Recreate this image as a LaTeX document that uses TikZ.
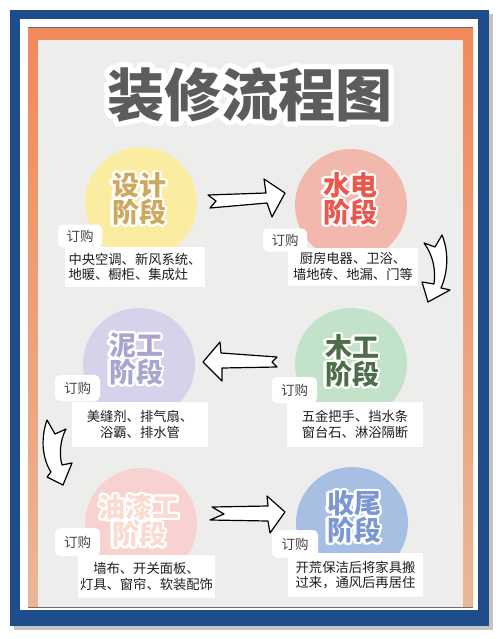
\documentclass[tikz,border=0pt]{standalone}
\usepackage{fontspec}
\newfontfamily\cjk{Noto Sans CJK SC}
\usetikzlibrary{calc}
\definecolor{bgpage}{HTML}{EDEEEC}
\definecolor{frameblue}{HTML}{1F4C8A}
\definecolor{shadowgray}{HTML}{C4C4C4}
\definecolor{orangetop}{HTML}{F2895A}
\definecolor{orangebot}{HTML}{E9B796}
\definecolor{scrollline}{HTML}{6E6E6E}
\definecolor{titlegray}{HTML}{5C5C5C}
\definecolor{taggray}{HTML}{444444}
\definecolor{bodyblack}{HTML}{1E1E1E}
\definecolor{yellowc}{HTML}{FAEDA2}
\definecolor{yellowt}{HTML}{CEA85E}
\definecolor{salmonc}{HTML}{F3B8AD}
\definecolor{salmont}{HTML}{E9574D}
\definecolor{lavc}{HTML}{D4D3E9}
\definecolor{lavt}{HTML}{A8A6CE}
\definecolor{greenc}{HTML}{C2E3C9}
\definecolor{greent}{HTML}{4D6D4B}
\definecolor{pinkc}{HTML}{F7D2D0}
\definecolor{pinkt}{HTML}{FADBD0}
\definecolor{bluec}{HTML}{A8BFE4}
\definecolor{bluet}{HTML}{7B98D2}
\tikzset{
 stagelabel/.style={font=\cjk\bfseries\fontsize{27}{27}\selectfont, align=center, inner sep=0pt},
 titlelabel/.style={font=\cjk\bfseries\fontsize{57}{57}\selectfont, inner sep=0pt},
 stagecircle/.style={circle, minimum size=112pt, inner sep=0pt},
 tagbox/.style={fill=white, rounded corners=5pt, inner sep=0pt, font=\cjk\fontsize{13.5}{14}\selectfont, text=taggray},
 bodybox/.style={fill=white, inner sep=0pt, font=\cjk\fontsize{13.3}{15.5}\selectfont, text=bodyblack},
 blockarrow/.style={draw=black, fill=white, line width=1.2pt, line join=round},
}
% #1 name, #2 position, #3 style, #4 colour, #5 outline radius, #6 text
\newcommand\glowlabel[6]{%
  \foreach \ang in {0,22.5,...,337.5}{
    \node[#3, text=white] at ($#2+(\ang:#5pt)$) {#6};
    \node[#3, text=white] at ($#2+(\ang:#5pt*0.55)$) {#6};
  }
  \node[#3, text=#4] (#1) at #2 {#6};
}
\begin{document}
\begin{tikzpicture}[x=1pt,y=-1pt]
\useasboundingbox (0,0) rectangle (500,639);
\fill[white] (0,0) rectangle (500,639);
% frame
\fill[shadowgray] (14,14) rectangle (493,630);
\fill[frameblue] (10,10) rectangle (489,626);
\fill[white] (20,19) rectangle (478,610);
\shade[top color=orangetop, bottom color=orangebot] (28,28) rectangle (38,607);
\shade[top color=orangetop, bottom color=orangebot] (463,28) rectangle (473,607);
\fill[orangetop] (28,28) rectangle (473,40);
\fill[bgpage] (38,40) rectangle (463,607);
\draw[scrollline, line width=0.8pt] (28,27.5) -- (473,27.5);
\draw[scrollline, line width=0.8pt] (28,607.5) -- (473,607.5);
% title
\glowlabel{title}{(250,95)}{titlelabel}{titlegray}{5}{装修流程图}
% circles
\node[stagecircle, fill=yellowc] (c1) at (141,203) {};
\node[stagecircle, fill=salmonc] (c2) at (351,205) {};
\node[stagecircle, fill=lavc] (c3) at (139,364) {};
\node[stagecircle, fill=greenc] (c4) at (351,364) {};
\node[stagecircle, fill=pinkc] (c5) at (141,524) {};
\node[stagecircle, fill=bluec] (c6) at (352,523) {};
% stage labels
\glowlabel{l1}{(139,199)}{stagelabel}{yellowt}{2.2}{设计\\阶段}
\glowlabel{l2}{(350,199)}{stagelabel}{salmont}{2.2}{水电\\阶段}
\glowlabel{l3}{(136,359)}{stagelabel}{lavt}{2.2}{泥工\\阶段}
\glowlabel{l4}{(352,361)}{stagelabel}{greent}{2.2}{木工\\阶段}
\glowlabel{l5}{(139,521)}{stagelabel}{pinkt}{2.2}{油漆工\\阶段}
\glowlabel{l6}{(354,517)}{stagelabel}{bluet}{2.2}{收尾\\阶段}
% arrows
\draw[blockarrow] (208,195) -- (266,193) -- (264,179) -- (285,193) -- (272,217) -- (267,203) -- (210,208) -- (216,201) -- cycle;
\draw[blockarrow] (424,243) -- (435,247) -- (442,235) .. controls (449,252) and (448,272) .. (441,288) -- (450,290) -- (428,302) -- (422,282) -- (434,284) .. controls (436,270) and (433,255) .. (424,243) -- cycle;
\draw[blockarrow] (203,362) -- (220,342) -- (221,353) -- (277,357) -- (272,362) -- (277,367) -- (222,368) -- (222,381) -- cycle;
\draw[blockarrow] (47,420) -- (55,434) -- (66,429) .. controls (60,440) and (59,455) .. (62,465) -- (72,463) -- (63,485) -- (47,477) -- (51,472) .. controls (43,460) and (40,440) .. (47,420) -- cycle;
\draw[blockarrow] (212,507) -- (268,506) -- (267,496) -- (285,512) -- (270,533) -- (268,521) -- (210,520) -- (224,514) -- cycle;
% tags and bodies
\node[tagbox, minimum width=44pt, minimum height=23pt] (t1) at (80,236) {订购};
\node[bodybox, minimum width=140pt, minimum height=40pt, align=left] (b1) at (135,267) {中央空调、新风系统、\\地暖、橱柜、集成灶};
\node[tagbox, minimum width=44pt, minimum height=23pt] (t2) at (285,240) {订购};
\node[bodybox, minimum width=130pt, minimum height=38pt, align=center] (b2) at (353,266.5) {厨房电器、卫浴、\\墙地砖、地漏、门等};
\node[tagbox, minimum width=45pt, minimum height=26pt] (t3) at (77.5,388) {订购};
\node[bodybox, minimum width=136pt, minimum height=45pt, align=center] (b3) at (140,424.5) {美缝剂、排气扇、\\浴霸、排水管};
\node[tagbox, minimum width=45pt, minimum height=26pt] (t4) at (294.5,390) {订购};
\node[bodybox, minimum width=136pt, minimum height=45pt, align=center] (b4) at (355,424.5) {五金把手、挡水条\\窗台石、淋浴隔断};
\node[tagbox, minimum width=45pt, minimum height=28pt] (t5) at (77.5,542) {订购};
\node[bodybox, minimum width=137pt, minimum height=43pt, align=center] (b5) at (146.5,576.5) {墙布、开关面板、\\灯具、窗帘、软装配饰};
\node[tagbox, minimum width=46pt, minimum height=28pt] (t6) at (295,544) {订购};
\node[bodybox, minimum width=135pt, minimum height=44pt, align=left] (b6) at (355.5,575) {开荒保洁后将家具搬\\过来，通风后再居住};
\end{tikzpicture}
\end{document}
